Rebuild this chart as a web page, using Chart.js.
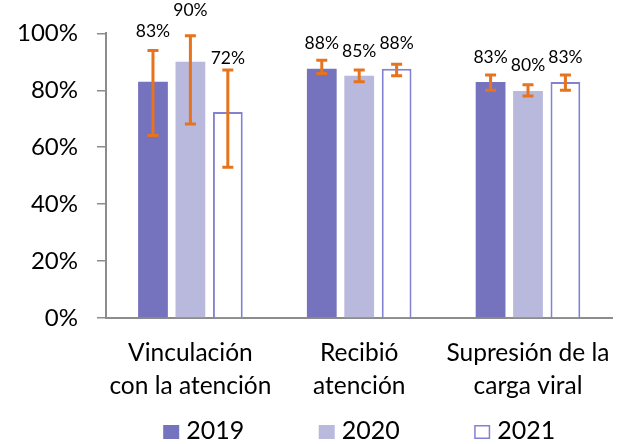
<!DOCTYPE html>
<html><head><meta charset="utf-8">
<script src="https://cdn.jsdelivr.net/npm/chart.js@4/dist/chart.umd.min.js"></script>
<style>html,body{margin:0;padding:0;background:#fff}#wrap{width:630px;height:444px}</style>
</head><body><div id="wrap"><canvas id="c" width="630" height="444"></canvas></div>
<script>
// ---- data ----
const categories = [['Vinculación', 'con la atención'], ['Recibió', 'atención'], ['Supresión de la', 'carga viral']];
const seriesNames = ['2019', '2020', '2021'];
const values2019 = [0.83, 0.876, 0.829];
const values2020 = [0.90, 0.851, 0.798];
const values2021 = [0.724, 0.876, 0.829];
const errLow2019 = [0.641, 0.859, 0.80];
const errHigh2019 = [0.94, 0.906, 0.854];
const errLow2020 = [0.682, 0.83, 0.78];
const errHigh2020 = [0.992, 0.871, 0.82];
const errLow2021 = [0.53, 0.851, 0.80];
const errHigh2021 = [0.871, 0.892, 0.854];
const yTicks = [0, 0.2, 0.4, 0.6, 0.8, 1.0];

const pct = v => Math.round(v * 100) + '%';

const errorBarPlugin = {
  id: 'errorBars',
  afterDatasetsDraw(chart, args, opts) {
    const ctx = chart.ctx;
    const y = chart.scales.y;
    chart.data.datasets.forEach((ds, di) => {
      const meta = chart.getDatasetMeta(di);
      meta.data.forEach((bar, i) => {
        const x = bar.x;
        const yl = y.getPixelForValue(ds.errLow[i]);
        const yh = y.getPixelForValue(ds.errHigh[i]);
        ctx.save();
        ctx.strokeStyle = opts.color;
        ctx.lineWidth = opts.lineWidth;
        ctx.lineCap = 'butt';
        ctx.beginPath();
        ctx.moveTo(x, yl); ctx.lineTo(x, yh);
        ctx.moveTo(x - opts.capWidth / 2, yl); ctx.lineTo(x + opts.capWidth / 2, yl);
        ctx.moveTo(x - opts.capWidth / 2, yh); ctx.lineTo(x + opts.capWidth / 2, yh);
        ctx.stroke();
        ctx.fillStyle = opts.labelColor;
        ctx.font = opts.labelFont;
        ctx.textAlign = 'center';
        ctx.textBaseline = 'middle';
        ctx.fillText(pct(ds.data[i]), x, yh - opts.labelGap + opts.nudge[di][i]);
        ctx.restore();
      });
    });
  }
};

// legend drawn on the canvas, centred under the plot area
const bottomLegendPlugin = {
  id: 'bottomLegend',
  afterDraw(chart, args, opts) {
    const ctx = chart.ctx;
    const area = chart.chartArea;
    ctx.save();
    ctx.font = opts.font;
    ctx.textBaseline = 'middle';
    ctx.textAlign = 'left';
    const dss = chart.data.datasets;
    const lastW = opts.boxWidth + opts.textGap + ctx.measureText(dss[dss.length - 1].label).width;
    const total = opts.spacing * (dss.length - 1) + lastW;
    let x = (area.left + area.right) / 2 - total / 2;
    dss.forEach(ds => {
      const top = opts.y - opts.boxHeight / 2;
      ctx.fillStyle = ds.backgroundColor;
      ctx.fillRect(x, top, opts.boxWidth, opts.boxHeight);
      if (ds.borderWidth > 0) {
        ctx.strokeStyle = ds.borderColor;
        ctx.lineWidth = 1.5;
        ctx.strokeRect(x + 0.75, top + 0.75, opts.boxWidth - 1.5, opts.boxHeight - 1.5);
      }
      ctx.fillStyle = opts.color;
      ctx.fillText(ds.label, x + opts.boxWidth + opts.textGap, opts.y - 1);
      x += opts.spacing;
    });
    ctx.restore();
  }
};

Chart.defaults.font.family = 'Lato';
Chart.defaults.color = '#000';

new Chart(document.getElementById('c'), {
  type: 'bar',
  data: {
    labels: categories,
    datasets: [
      { label: seriesNames[0], data: values2019, errLow: errLow2019, errHigh: errHigh2019,
        backgroundColor: '#7673BE', borderColor: '#7673BE', borderWidth: 0 },
      { label: seriesNames[1], data: values2020, errLow: errLow2020, errHigh: errHigh2020,
        backgroundColor: '#B9B9DE', borderColor: '#B9B9DE', borderWidth: 0 },
      { label: seriesNames[2], data: values2021, errLow: errLow2021, errHigh: errHigh2021,
        backgroundColor: '#FFFFFF', borderColor: '#8381D2', borderWidth: 2 }
    ]
  },
  options: {
    responsive: false,
    animation: false,
    devicePixelRatio: 1,
    layout: { padding: { top: 32, right: 15, left: 0, bottom: 36 } },
    datasets: { bar: { categoryPercentage: 0.665, barPercentage: 0.796 } },
    scales: {
      x: {
        grid: { drawOnChartArea: false, drawTicks: false },
        border: { display: true, color: '#8C8C8C', width: 2 },
        ticks: { font: { size: 24.5, lineHeight: 1.36 }, padding: 18, maxRotation: 0, autoSkip: false },
        afterFit(scale) { scale.height = 90; }
      },
      y: {
        min: 0, max: 1,
        afterBuildTicks(scale) { scale.ticks = yTicks.map(v => ({ value: v })); },
        grid: { drawOnChartArea: false, drawTicks: true, tickLength: 9, color: '#8C8C8C', lineWidth: 1.5 },
        border: { display: true, color: '#8C8C8C', width: 2 },
        ticks: { font: { size: 24 }, padding: 19, callback: v => pct(v) },
        afterFit(scale) { scale.width = 106; }
      }
    },
    plugins: {
      tooltip: { enabled: false },
      legend: { display: false },
      bottomLegend: {
        font: '25px Lato', color: '#000', boxWidth: 16, boxHeight: 14,
        textGap: 7, spacing: 155.5, y: 432
      },
      errorBars: {
        color: '#E6731E', lineWidth: 3, capWidth: 11,
        labelColor: '#000', labelFont: '17.5px Lato', labelGap: 18,
        nudge: [[-1.3, 1.2, 0], [-7.2, -0.3, -1.3], [6.2, -2.8, 0]]
      }
    }
  },
  plugins: [errorBarPlugin, bottomLegendPlugin]
});
</script></body></html>
